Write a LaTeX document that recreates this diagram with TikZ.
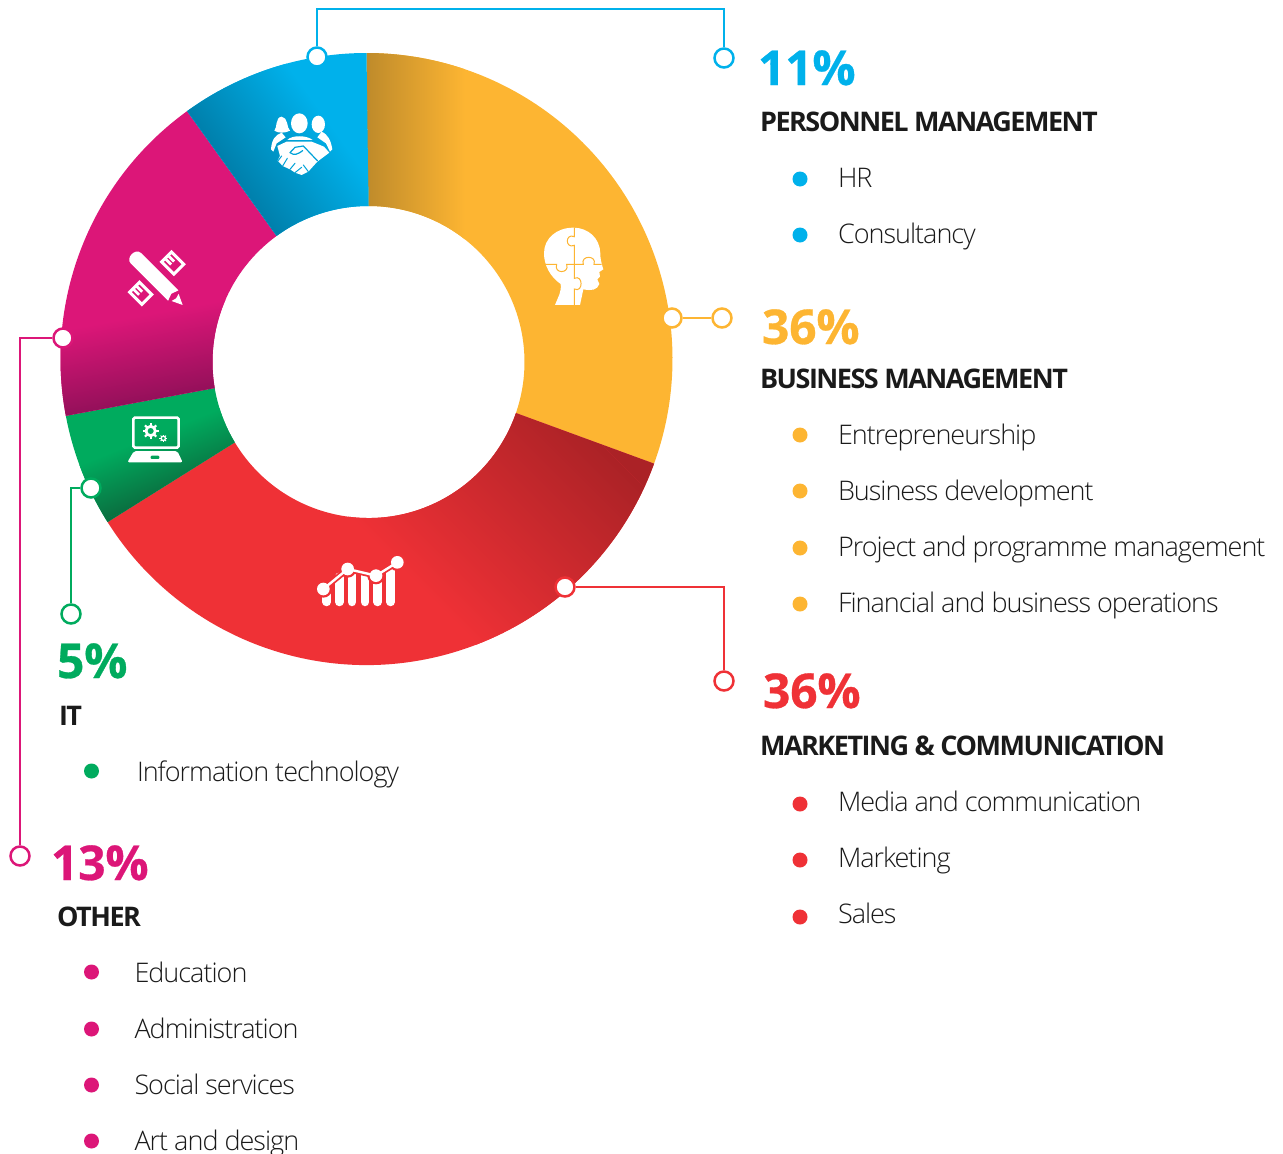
\documentclass[tikz,border=0pt]{standalone}
\usepackage{fontspec}
\setmainfont{Open Sans}
\newfontface\lightf[LetterSpace=-3.7]{Open Sans Light}
\newfontface\boldf[LetterSpace=-5.5]{Open Sans Bold}
\newfontface\xbf[LetterSpace=-0.5,FakeBold=0.6]{Open Sans Bold}
\definecolor{cblue}{HTML}{00B1EB}
\definecolor{cyel}{HTML}{FDB532}
\definecolor{cred}{HTML}{EF3136}
\definecolor{cgrn}{HTML}{00AB5E}
\definecolor{cmag}{HTML}{DC1678}
\definecolor{dblue}{HTML}{0080AC}
\definecolor{dyel}{HTML}{BF8B2B}
\definecolor{dred}{HTML}{AB2226}
\definecolor{dgrn}{HTML}{0A6F40}
\definecolor{dmag}{HTML}{94105A}
\definecolor{ink}{HTML}{1A1A1A}
\newcommand{\sect}[4]{([shift={(366.5,359)}]#1:306) arc[start angle=#1,end angle=#2,radius=306] -- ([shift={(368.5,362)}]#4:156) arc[start angle=#4,end angle=#3,radius=156] -- cycle}
\newcommand{\grad}[6]{\begin{scope}[transform canvas={shift={(#1,#2)},rotate=#3}]
\fill[#5] (-900,-900) rectangle (0,900);
\shade[left color=#5,right color=#6] (0,-900) rectangle (#4,900);
\end{scope}}
\tikzset{
 x=1pt,y=-1pt,
 pct/.style={inner sep=0,outer sep=0,anchor=base west,font=\fontsize{48}{50}\selectfont\xbf},
 head/.style={inner sep=0,outer sep=0,anchor=base west,text=ink,font=\fontsize{27}{30}\selectfont\boldf},
 item/.style={inner sep=0,outer sep=0,anchor=base west,text=ink,font=\fontsize{27}{30}\selectfont\lightf},
 bul/.style={circle,fill=#1,inner sep=0,minimum size=15pt},
 opendot/.style={circle,draw=#1,fill=white,line width=2.5pt,inner sep=0,minimum size=19pt},
 link/.style={draw=#1,line width=2pt},
 ruler/.style={white,line width=3pt,line join=miter},
 tick/.style={white,line width=2.8pt},
}
\begin{document}
\begin{tikzpicture}
\path[use as bounding box] (0,0) rectangle (1283,1154);
% ring
\begin{scope}\clip \sect{-90}{20}{-90}{19.1};
\fill[cyel] (0,0) rectangle (1283,1154);
\grad{367}{359}{0}{98}{dyel}{cyel}
\end{scope}
\begin{scope}\clip \sect{20}{147.8}{19.1}{149};
\fill[cred] (0,0) rectangle (1283,1154);
\grad{612}{455}{225}{230}{dred}{cred}
\end{scope}
\begin{scope}\clip \sect{147.8}{169.3}{149}{170.4};
\fill[cgrn] (0,0) rectangle (1283,1154);
\grad{165}{495}{112}{60}{dgrn}{cgrn}
\end{scope}
\begin{scope}\clip \sect{169.3}{234.1}{170.4}{233.9};
\fill[cmag] (0,0) rectangle (1283,1154);
\grad{140}{402}{100.6}{85}{dmag}{cmag}
\end{scope}
\begin{scope}\clip \sect{234.1}{270}{233.9}{270};
\fill[cblue] (0,0) rectangle (1283,1154);
\grad{230}{170}{35.7}{108}{dblue}{cblue}
\end{scope}
% head icon
\begin{scope}[shift={(520,210)},x=0.3333pt,y=-0.3333pt]
\fill[white] (105,285) .. controls (115,260) and (125,245) .. (122,222)
 .. controls (90,200) and (72,165) .. (72,130)
 .. controls (72,85) and (110,53) .. (160,53)
 .. controls (205,53) and (240,85) .. (241,130)
 .. controls (241,145) and (243,155) .. (250,178)
 -- (238,186) -- (240,200) -- (232,208) -- (238,222)
 .. controls (232,240) and (215,243) .. (190,238) -- (180,285) -- cycle;
\draw[cyel,line width=1pt] (163,53) -- (163,80) .. controls (135,68) and (135,118) .. (163,106) -- (163,205)
 .. controls (190,192) and (190,250) .. (163,237) -- (163,285);
\draw[cyel,line width=1pt] (72,163) -- (110,163) .. controls (100,192) and (150,192) .. (140,163) -- (190,163)
 .. controls (180,135) and (232,135) .. (222,163) -- (245,163);
\end{scope}
% handshake icon
\begin{scope}[shift={(240,90)},x=0.3333pt,y=-0.3333pt]
\fill[white] (178,100) ellipse[x radius=25,y radius=30];
\fill[white] (235,103) ellipse[x radius=20,y radius=26];
\fill[white] (103,122) .. controls (112,115) and (105,82) .. (125,80) .. controls (145,82) and (140,115) .. (150,122) .. controls (135,130) and (115,130) .. (103,122) -- cycle;
\fill[white] (93,178) .. controls (95,150) and (105,135) .. (125,128) -- (137,142) -- (110,160) -- (100,185) -- cycle;
\fill[white] (277,178) .. controls (272,150) and (265,135) .. (245,125) -- (232,142) -- (258,160) -- (270,185) -- cycle;
\fill[white] (142,150) .. controls (155,135) and (200,135) .. (218,150) -- (178,150) -- cycle;
\fill[white] (112,168) -- (140,155) -- (180,155) -- (215,155) -- (252,170) -- (268,188) -- (232,215) -- (205,245) -- (185,255) -- (165,248) -- (150,238) -- (128,228) -- (113,212) -- (120,198) -- cycle;
\draw[cblue!70!dblue,line width=1.2pt,line cap=round,line join=round] (232,212) -- (190,168) -- (165,172) -- (150,188) .. controls (162,198) and (175,192) .. (188,182);
\draw[cblue!70!dblue,line width=1pt,line cap=round] (125,198) -- (113,214) (142,205) -- (128,228) (165,220) -- (150,238) (185,232) -- (165,248) (205,245) -- (190,225);
\end{scope}
% pencil and rulers icon
\begin{scope}[shift={(110,235)},x=0.3333pt,y=-0.3333pt]
\begin{scope}[shift={(188,84)},rotate=45]
\draw[ruler] (-21,-26) rectangle (21,26);
\draw[tick] (-6.5,-26) -- (-6.5,0) (6.5,-26) -- (6.5,0);
\end{scope}
\begin{scope}[shift={(92,175)},rotate=45]
\draw[ruler] (-21,-26) rectangle (21,26);
\draw[tick] (-6.5,-26) -- (-6.5,0) (6.5,-26) -- (6.5,0);
\end{scope}
\begin{scope}[shift={(78,70)},rotate=-45]
\fill[cmag] (-25,-29) rectangle (192,29);
\fill[white] (0,-22) .. controls (-24,-22) and (-24,22) .. (0,22) -- (158,22) -- (150,0) -- (158,-22) -- cycle;
\fill[white] (166,-15) -- (198,0) -- (166,15) -- (170,0) -- cycle;
\end{scope}
\end{scope}
% laptop icon
\begin{scope}[shift={(110,405)},x=0.3333pt,y=-0.3333pt]
\draw[white,line width=2.6pt,rounded corners=1.5pt] (70,38) rectangle (206,128);
\path[fill=white,rounded corners=2pt] (72,138) -- (202,138) -- (218,172) -- (52,172) -- cycle;
\fill[cgrn!85!dgrn,rounded corners=1pt] (122,152) rectangle (148,162);
\draw[white,line width=2.8pt] (122,78) circle[radius=14];
\foreach \a in {0,45,...,315} \draw[white,line width=2.2pt] (122,78) ++(\a:16) -- ++(\a:8);
\draw[white,line width=1.3pt] (160,100) circle[radius=6.5];
\foreach \a in {0,45,...,315} \draw[white,line width=1pt] (160,100) ++(\a:7) -- ++(\a:4.5);
\end{scope}
% chart icon
\begin{scope}[shift={(300,540)},x=0.3333pt,y=-0.3333pt]
\foreach \bx/\by in {80/165,118/110,156/105,195/105,233/120,272/90}
 \draw[white,line width=8.5pt,line cap=round] (\bx,\by) -- (\bx,186);
\draw[cred,line width=6pt] (70,147) -- (143,87) -- (228,107) -- (292,67);
\fill[cred] (70,147) circle[radius=26] (143,87) circle[radius=26] (228,107) circle[radius=26] (292,67) circle[radius=26];
\draw[white,line width=2.4pt] (70,147) -- (143,87) -- (228,107) -- (292,67);
\fill[white] (70,147) circle[radius=19] (143,87) circle[radius=19] (228,107) circle[radius=19] (292,67) circle[radius=19];
\end{scope}
% connector dots
\node[opendot=cblue] (ba) at (317,57) {};
\node[opendot=cblue] (bb) at (724,58) {};
\node[opendot=cyel] (ya) at (672,318) {};
\node[opendot=cyel] (yb) at (722,318) {};
\node[opendot=cred] (ra) at (565,587) {};
\node[opendot=cred] (rb) at (724,681) {};
\node[opendot=cgrn] (ga) at (91,488) {};
\node[opendot=cgrn] (gb) at (71,614) {};
\node[opendot=cmag] (ma) at (63,338) {};
\node[opendot=cmag] (mb) at (20,856) {};
\coordinate (bc1) at (317,9);
\coordinate (bc2) at (724,9);
\coordinate (rc) at (724,587);
\coordinate (gc) at (71,488);
\coordinate (mc) at (20,338);
\draw[link=cblue] (ba) -- (bc1) -- (bc2) -- (bb);
\draw[link=cyel] (ya) -- (yb);
\draw[link=cred] (ra) -- (rc) -- (rb);
\draw[link=cgrn] (ga) -- (gc) -- (gb);
\draw[link=cmag] (ma) -- (mc) -- (mb);
% personnel
\node[pct,text=cblue] (t1) at (758,85) {11\%};
\node[head] (h1) at (760,131) {PERSONNEL MANAGEMENT};
\node[bul=cblue] (d11) at (800,179) {}; \node[item] (i11) at (838,187) {HR};
\node[bul=cblue] (d12) at (800,235) {}; \node[item] (i12) at (838,243) {Consultancy};
% business
\node[pct,text=cyel] (t2) at (762,344) {36\%};
\node[head] (h2) at (760,388) {BUSINESS MANAGEMENT};
\node[bul=cyel] (d21) at (800,435) {}; \node[item] (i21) at (838,444) {Entrepreneurship};
\node[bul=cyel] (d22) at (800,491) {}; \node[item] (i22) at (838,500) {Business development};
\node[bul=cyel] (d23) at (800,548) {}; \node[item] (i23) at (838,556) {Project and programme management};
\node[bul=cyel] (d24) at (800,604) {}; \node[item] (i24) at (838,612) {Financial and business operations};
% marketing
\node[pct,text=cred] (t3) at (763,708) {36\%};
\node[head] (h3) at (760,755) {MARKETING \& COMMUNICATION};
\node[bul=cred] (d31) at (800,804) {}; \node[item] (i31) at (838,811) {Media and communication};
\node[bul=cred] (d32) at (800,860) {}; \node[item] (i32) at (838,867) {Marketing};
\node[bul=cred] (d33) at (800,917) {}; \node[item] (i33) at (838,923) {Sales};
% IT
\node[pct,text=cgrn] (t4) at (57,678) {5\%};
\node[head] (h4) at (59,725) {IT};
\node[bul=cgrn] (d41) at (91.5,771) {}; \node[item] (i41) at (137,781) {Information technology};
% other
\node[pct,text=cmag] (t5) at (51,880) {13\%};
\node[head] (h5) at (57,926) {OTHER};
\node[bul=cmag] (d51) at (91.5,972) {}; \node[item] (i51) at (134.5,982) {Education};
\node[bul=cmag] (d52) at (91.5,1029) {}; \node[item] (i52) at (134.5,1038) {Administration};
\node[bul=cmag] (d53) at (91.5,1085) {}; \node[item] (i53) at (134.5,1094) {Social services};
\node[bul=cmag] (d54) at (91.5,1141) {}; \node[item] (i54) at (134.5,1150) {Art and design};
\end{tikzpicture}
\end{document}
